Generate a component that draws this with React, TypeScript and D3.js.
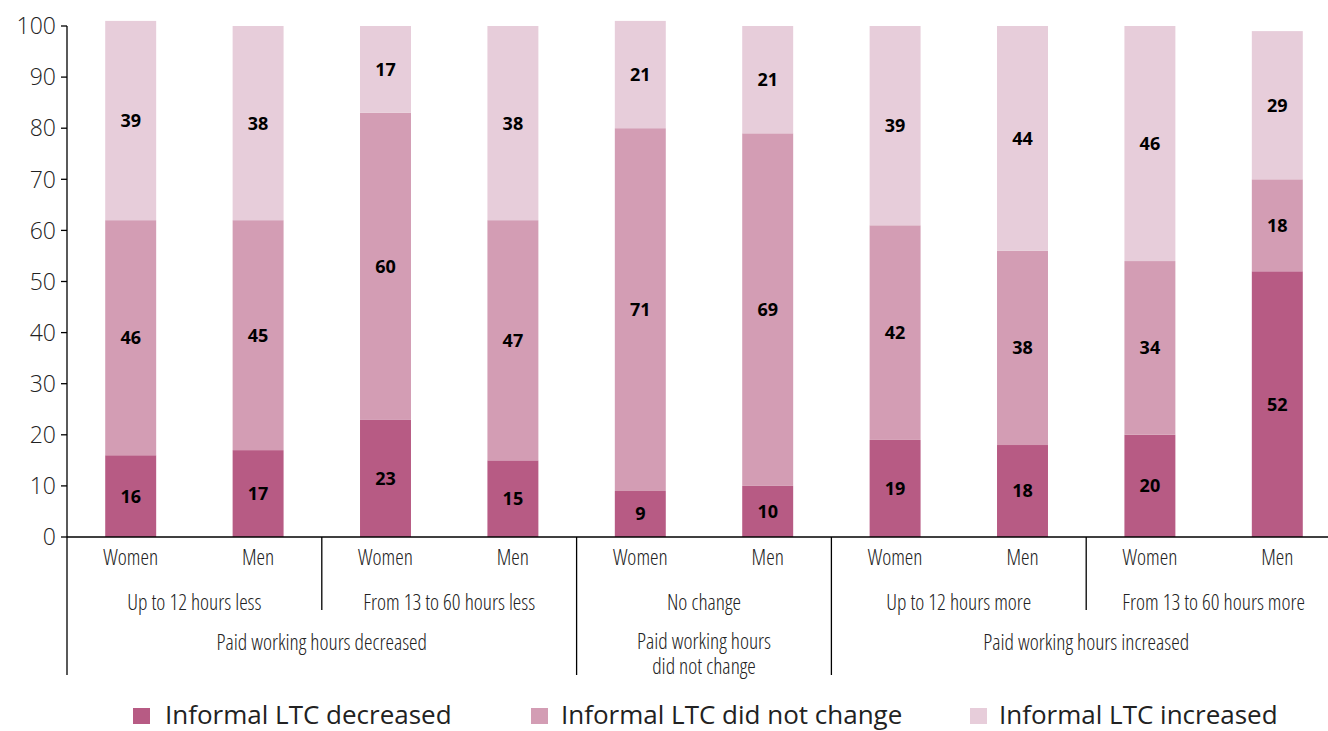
import React, { useEffect } from "react";
import * as d3 from "d3";

const genders = ["Women", "Men", "Women", "Men", "Women", "Men", "Women", "Men", "Women", "Men"];
const subgroups = ["Up to 12 hours less", "From 13 to 60 hours less", "No change", "Up to 12 hours more", "From 13 to 60 hours more"];
const groups = [["Paid working hours decreased"], ["Paid working hours", "did not change"], ["Paid working hours increased"]];
const groupSpans = [[0, 4], [4, 6], [6, 10]];

const ltcDecreased = [16, 17, 23, 15, 9, 10, 19, 18, 20, 52];
const ltcNoChange = [46, 45, 60, 47, 71, 69, 42, 38, 34, 18];
const ltcIncreased = [39, 38, 17, 38, 21, 21, 39, 44, 46, 29];

const seriesNames = ["Informal LTC decreased", "Informal LTC did not change", "Informal LTC increased"];
const seriesColors = ["#b75b84", "#d39db4", "#e7cdda"];
const yTicks = [0, 10, 20, 30, 40, 50, 60, 70, 80, 90, 100];

const W = 1328, H = 731;
const left = 67, step = 127.4;
const y0 = 537, y100 = 26;

export default function App() {
  useEffect(() => {
    document.body.style.margin = "0";
  }, []);

  const idx = genders.map((_, i) => i);
  const x = d3.scaleBand<number>().domain(idx).range([left, left + step * 10]).paddingInner(0.6).paddingOuter(0.3);
  const y = d3.scaleLinear().domain([0, 100]).range([y0, y100]);

  const rows = idx.map((i) => ({ i, a: ltcDecreased[i], b: ltcNoChange[i], c: ltcIncreased[i] }));
  const stack = d3.stack<any>().keys(["a", "b", "c"]);
  const series = stack(rows);

  const sepX = (k: number) => left + step * k;
  const font = "'Open Sans', sans-serif";
  const condFont = { fontFamily: font, fontStretch: "condensed" as any, fontWeight: 350 };

  const legendX = [[133, 165], [531, 561], [970, 999]];

  return (
    <svg width={W} height={H} style={{ display: "block", background: "#fff" }}>
      {series.map((s, si) =>
        s.map((d, i) => (
          <rect key={`${si}-${i}`} x={x(i)} width={x.bandwidth()} y={y(d[1])} height={y(d[0]) - y(d[1])} fill={seriesColors[si]} />
        ))
      )}
      {series.map((s, si) =>
        s.map((d, i) => (
          <text key={`t${si}-${i}`} x={(x(i) as number) + x.bandwidth() / 2} y={(y(d[0]) + y(d[1])) / 2} dy="0.36em" textAnchor="middle" fontFamily={font} fontWeight={700} fontSize={18} fill="#000">
            {d[1] - d[0]}
          </text>
        ))
      )}
      {/* y axis */}
      <line x1={left} x2={left} y1={y(100)} y2={675} stroke="#000" strokeWidth={1.3} />
      {yTicks.map((t) => (
        <g key={t}>
          <line x1={left - 6} x2={left} y1={y(t)} y2={y(t)} stroke="#000" strokeWidth={1.3} />
          <text x={left - 11} y={y(t)} dy="0.36em" textAnchor="end" fontFamily={font} fontWeight={300} fontSize={23} fill="#222">
            {t}
          </text>
        </g>
      ))}
      {/* x axis */}
      <line x1={left} x2={W} y1={y0} y2={y0} stroke="#000" strokeWidth={1.3} />
      {[2, 4, 6, 8].map((k) => (
        <line key={k} x1={sepX(k)} x2={sepX(k)} y1={y0} y2={k === 4 || k === 6 ? 675 : 610} stroke="#000" strokeWidth={1.3} />
      ))}
      {genders.map((g, i) => (
        <text key={`g${i}`} x={(x(i) as number) + x.bandwidth() / 2} y={565} textAnchor="middle" fontSize={21.5} fill="#222" style={condFont}>
          {g}
        </text>
      ))}
      {subgroups.map((s, k) => (
        <text key={`s${k}`} x={sepX(2 * k + 1)} y={610} textAnchor="middle" fontSize={21.5} fill="#222" style={condFont}>
          {s}
        </text>
      ))}
      {groups.map((lines, k) => (
        <text key={`G${k}`} x={(sepX(groupSpans[k][0]) + sepX(groupSpans[k][1])) / 2} y={lines.length > 1 ? 649 : 650} textAnchor="middle" fontSize={21.5} fill="#222" style={condFont}>
          {lines.map((l, j) => (
            <tspan key={j} x={(sepX(groupSpans[k][0]) + sepX(groupSpans[k][1])) / 2} dy={j === 0 ? 0 : 25}>
              {l}
            </tspan>
          ))}
        </text>
      ))}
      {/* legend */}
      {seriesNames.map((n, k) => (
        <g key={n}>
          <rect x={legendX[k][0]} y={708} width={17} height={16} fill={seriesColors[k]} />
          <text x={legendX[k][1]} y={724} fontFamily={font} fontSize={26} fill="#222">
            {n}
          </text>
        </g>
      ))}
    </svg>
  );
}
